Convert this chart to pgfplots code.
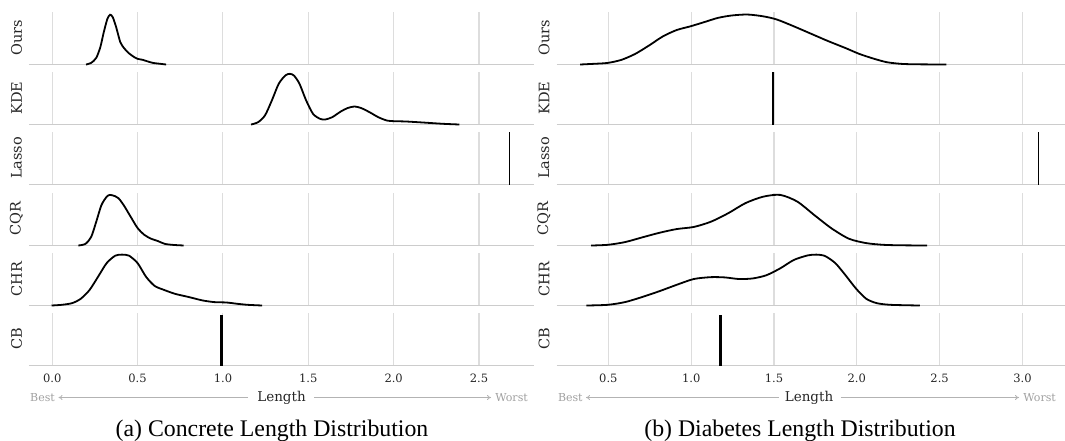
\documentclass[border=0pt]{standalone}
\usepackage{fontspec}
\setmainfont{DejaVu Serif}
\newfontfamily\capfont{Liberation Serif}
\usepackage{pgfplots}
\pgfplotsset{compat=1.18}
\usetikzlibrary{arrows.meta}

\definecolor{gridcol}{HTML}{DDDDDD}
\definecolor{basecol}{HTML}{CCCCCC}
\definecolor{labcol}{HTML}{262626}
\definecolor{notecol}{HTML}{A0A0A0}

\pgfplotsset{
  ridge/.style={
    scale only axis, height=53pt, ymin=0, ymax=1,
    axis line style={draw=none}, major tick length=0pt,
    ytick=\empty, xmajorgrids, grid style={gridcol, line width=1.1pt},
    clip=false, xticklabel=\empty,
  },
  curve/.style={black, line width=1.8pt, smooth, tension=0.45, mark=none},
  spike/.style={black, line width=#1, sharp plot, mark=none},
  leftpanel/.style={ridge, width=505pt, xmin=-0.136, xmax=2.822,
    xtick={0,0.5,1,1.5,2,2.5}},
  rightpanel/.style={ridge, width=508.3pt, xmin=0.188, xmax=3.257,
    xtick={0.5,1,1.5,2,2.5,3}},
  bottomrow/.style={
    xticklabel={\pgfmathprintnumber{\tick}},
    xticklabel style={anchor=base, yshift=-17.3pt, text=labcol,
      font=\fontsize{11.5}{12}\selectfont,
      /pgf/number format/.cd, fixed, fixed zerofill, precision=1,
      assume math mode=true},
  },
}

% baseline of each ridge (drawn under the curve) and its name
\newcommand\ridgebase{\draw[basecol, line width=1.5pt] (rel axis cs:0,0) -- (rel axis cs:1,0);}
\newcommand\rowlabel[2]{\node[rotate=90, inner sep=0pt, text=labcol,
  font=\fontsize{14.5}{15}\selectfont] at ([xshift=#1]rel axis cs:0,0.5) {#2};}

\begin{document}
\begin{tikzpicture}[x=1pt, y=1pt]
\path[use as bounding box] (0,0) rectangle (1065,-440);

% ---------------- (a) Concrete ----------------
\begin{axis}[leftpanel, at={(29pt,-64.5pt)}, anchor=south west]
\ridgebase \rowlabel{-12.5pt}{Ours}
\addplot[curve] coordinates {(0.198,0) (0.228,0.03) (0.258,0.126) (0.282,0.33) (0.302,0.61)
  (0.323,0.86) (0.339,0.94) (0.355,0.89) (0.375,0.70) (0.399,0.42) (0.423,0.30)
  (0.45,0.21) (0.48,0.14) (0.50,0.107) (0.53,0.088) (0.56,0.057) (0.59,0.03)
  (0.62,0.018) (0.667,0)};
\end{axis}

\begin{axis}[leftpanel, at={(29pt,-124.5pt)}, anchor=south west]
\ridgebase \rowlabel{-12.5pt}{KDE}
\addplot[curve] coordinates {(1.165,0) (1.206,0.044) (1.246,0.17) (1.286,0.45) (1.327,0.77)
  (1.367,0.93) (1.393,0.956) (1.417,0.92) (1.448,0.77) (1.488,0.45) (1.528,0.20)
  (1.569,0.107) (1.599,0.094) (1.64,0.138) (1.69,0.245) (1.73,0.31) (1.77,0.34)
  (1.81,0.31) (1.86,0.23) (1.91,0.138) (1.96,0.075) (2.00,0.063) (2.07,0.057)
  (2.17,0.038) (2.29,0.013) (2.385,0)};
\end{axis}

\begin{axis}[leftpanel, at={(29pt,-184.5pt)}, anchor=south west]
\ridgebase \rowlabel{-12.5pt}{Lasso}
\addplot[spike=1.4pt] coordinates {(2.677,0) (2.677,1)};
\end{axis}

\begin{axis}[leftpanel, at={(29pt,-245.5pt)}, anchor=south west]
\ridgebase \rowlabel{-12.5pt}{CQR}
\addplot[curve] coordinates {(0.153,0) (0.194,0.03) (0.228,0.16) (0.258,0.45) (0.288,0.76)
  (0.319,0.92) (0.339,0.955) (0.369,0.93) (0.389,0.89) (0.419,0.76) (0.46,0.54)
  (0.50,0.33) (0.54,0.20) (0.58,0.127) (0.62,0.083) (0.66,0.03) (0.71,0.011) (0.77,0)};
\end{axis}

\begin{axis}[leftpanel, at={(29pt,-305.5pt)}, anchor=south west]
\ridgebase \rowlabel{-12.5pt}{CHR}
\addplot[curve] coordinates {(-0.004,0) (0.056,0.013) (0.117,0.045) (0.167,0.127) (0.218,0.29)
  (0.268,0.54) (0.319,0.80) (0.369,0.94) (0.409,0.96) (0.45,0.94) (0.50,0.80)
  (0.55,0.54) (0.60,0.37) (0.65,0.30) (0.72,0.22) (0.80,0.16) (0.88,0.096)
  (0.95,0.064) (1.02,0.057) (1.085,0.032) (1.145,0.013) (1.23,0)};
\end{axis}

\begin{axis}[leftpanel, bottomrow, at={(29pt,-365.5pt)}, anchor=south west]
\ridgebase \rowlabel{-12.5pt}{CB}
\addplot[spike=2.8pt] coordinates {(0.99,0) (0.99,0.95)};
\end{axis}

% ---------------- (b) Diabetes ----------------
\begin{axis}[rightpanel, at={(556.7pt,-64.5pt)}, anchor=south west]
\ridgebase \rowlabel{-12.7pt}{Ours}
\addplot[curve] coordinates {(0.329,0) (0.413,0.013) (0.496,0.03) (0.579,0.088) (0.662,0.20)
  (0.746,0.36) (0.829,0.53) (0.912,0.65) (0.995,0.72) (1.079,0.80) (1.162,0.88)
  (1.245,0.925) (1.339,0.943) (1.433,0.91) (1.516,0.85) (1.62,0.72) (1.724,0.58)
  (1.828,0.44) (1.932,0.31) (2.015,0.20) (2.099,0.113) (2.18,0.044) (2.265,0.013)
  (2.35,0.004) (2.54,0)};
\end{axis}

\begin{axis}[rightpanel, at={(556.7pt,-124.5pt)}, anchor=south west]
\ridgebase \rowlabel{-12.7pt}{KDE}
\addplot[spike=1.8pt] coordinates {(1.495,0) (1.495,1)};
\end{axis}

\begin{axis}[rightpanel, at={(556.7pt,-184.5pt)}, anchor=south west]
\ridgebase \rowlabel{-12.7pt}{Lasso}
\addplot[spike=1.4pt] coordinates {(3.098,0) (3.098,1)};
\end{axis}

\begin{axis}[rightpanel, at={(556.7pt,-245.5pt)}, anchor=south west]
\ridgebase \rowlabel{-12.7pt}{CQR}
\addplot[curve] coordinates {(0.396,0) (0.496,0.013) (0.60,0.064) (0.704,0.153) (0.808,0.24)
  (0.912,0.31) (1.016,0.35) (1.12,0.45) (1.224,0.61) (1.328,0.80) (1.433,0.92)
  (1.537,0.955) (1.64,0.83) (1.745,0.57) (1.849,0.32) (1.953,0.127) (2.057,0.045)
  (2.16,0.013) (2.265,0.004) (2.425,0)};
\end{axis}

\begin{axis}[rightpanel, at={(556.7pt,-305.5pt)}, anchor=south west]
\ridgebase \rowlabel{-12.7pt}{CHR}
\addplot[curve] coordinates {(0.367,0) (0.496,0.013) (0.60,0.064) (0.704,0.16) (0.808,0.27)
  (0.912,0.39) (1.016,0.50) (1.12,0.535) (1.204,0.53) (1.287,0.50) (1.37,0.51)
  (1.453,0.57) (1.537,0.70) (1.62,0.86) (1.703,0.945) (1.755,0.96) (1.807,0.935)
  (1.87,0.80) (1.932,0.57) (1.995,0.32) (2.057,0.127) (2.12,0.045) (2.203,0.013)
  (2.38,0)};
\end{axis}

\begin{axis}[rightpanel, bottomrow, at={(556.7pt,-365.5pt)}, anchor=south west]
\ridgebase \rowlabel{-12.7pt}{CB}
\addplot[spike=2.8pt] coordinates {(1.179,0) (1.179,0.95)};
\end{axis}

% ---------------- axis titles with direction hints ----------------
\begin{scope}[every node/.style={inner sep=0pt, anchor=base},
    note/.style={text=notecol, font=\fontsize{11}{12}\selectfont},
    hint/.style={notecol!80, line width=0.8pt, -{To[length=4pt, width=5pt]}}]
  \node[note, anchor=base west] at (30,-401) {Best};
  \node[note, anchor=base east] at (528,-401) {Worst};
  \node[text=labcol, font=\fontsize{13.5}{14}\selectfont] at (281.5,-401) {Length};
  \draw[hint] (248,-397.5) -- (58.5,-397.5);
  \draw[hint] (314,-397.5) -- (491,-397.5);

  \node[note, anchor=base west] at (557.8,-401) {Best};
  \node[note, anchor=base east] at (1056,-401) {Worst};
  \node[text=labcol, font=\fontsize{13.5}{14}\selectfont] at (809,-401) {Length};
  \draw[hint] (778.6,-397.5) -- (586,-397.5);
  \draw[hint] (840.5,-397.5) -- (1019,-397.5);

  \node[font=\capfont\fontsize{23.8}{24}\selectfont] at (272,-436.5) {(a) Concrete Length Distribution};
  \node[font=\capfont\fontsize{23.8}{24}\selectfont] at (800,-436.5) {(b) Diabetes Length Distribution};
\end{scope}
\end{tikzpicture}
\end{document}
